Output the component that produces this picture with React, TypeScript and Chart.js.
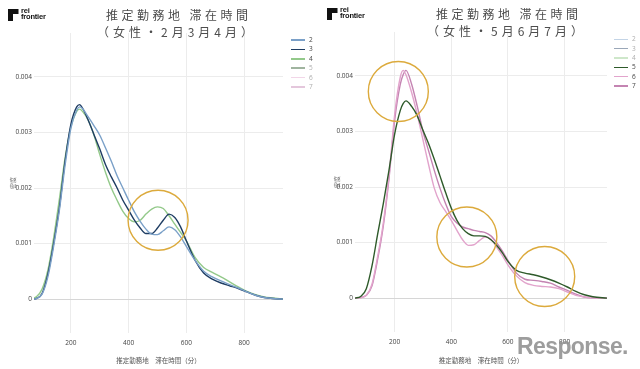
import React, { useEffect, useRef } from "react";
import { Chart, registerables } from "chart.js";

Chart.register(...registerables);

// ---------- data ----------
const seriesNames = ["2", "3", "4", "5", "6", "7"];
const seriesColors = ["#7aa0c8", "#1f3d63", "#93c98a", "#2e5a2a", "#e2a4cc", "#c484b2"];

// sample grid (minutes) for months 2-4
const gridFeb = [72, 80, 100, 120, 140, 160, 180, 200, 220, 230, 240, 260, 280, 300, 320, 340, 360, 380, 400, 420, 440, 460, 480, 500, 520, 540, 560, 580, 600, 630, 660, 690, 720, 750, 780, 810, 840, 870, 900, 935];
// density ×1000
const dens2 = [0, 0.01, 0.09, 0.4, 0.95, 1.6, 2.42, 3.08, 3.4, 3.46, 3.43, 3.28, 3.12, 2.95, 2.72, 2.48, 2.22, 2.0, 1.78, 1.57, 1.4, 1.26, 1.17, 1.16, 1.23, 1.3, 1.25, 1.12, 0.95, 0.7, 0.5, 0.4, 0.33, 0.26, 0.2, 0.13, 0.07, 0.03, 0.01, 0];
const dens3 = [0, 0.01, 0.1, 0.45, 1.0, 1.65, 2.5, 3.15, 3.46, 3.5, 3.44, 3.22, 2.96, 2.7, 2.42, 2.2, 2.0, 1.78, 1.6, 1.42, 1.28, 1.18, 1.18, 1.28, 1.42, 1.53, 1.47, 1.3, 1.05, 0.7, 0.47, 0.36, 0.29, 0.24, 0.19, 0.13, 0.07, 0.03, 0.01, 0];
const dens4 = [0.02, 0.04, 0.18, 0.52, 1.1, 1.8, 2.55, 3.1, 3.38, 3.42, 3.38, 3.22, 2.95, 2.6, 2.28, 2.0, 1.78, 1.58, 1.45, 1.39, 1.42, 1.53, 1.62, 1.66, 1.63, 1.5, 1.35, 1.2, 1.05, 0.75, 0.57, 0.48, 0.4, 0.31, 0.22, 0.14, 0.08, 0.04, 0.02, 0];

// sample grid (minutes) for months 5-7
const gridMay = [60, 80, 100, 120, 140, 160, 180, 200, 220, 230, 240, 260, 280, 300, 320, 340, 360, 380, 400, 420, 440, 460, 480, 500, 520, 540, 560, 580, 600, 630, 660, 690, 720, 750, 780, 810, 840, 870, 900, 950];
const dens5 = [0, 0.03, 0.17, 0.58, 1.15, 1.7, 2.3, 2.95, 3.38, 3.5, 3.55, 3.45, 3.28, 3.02, 2.78, 2.5, 2.2, 1.9, 1.62, 1.4, 1.25, 1.16, 1.12, 1.12, 1.11, 1.05, 0.95, 0.82, 0.66, 0.5, 0.45, 0.42, 0.38, 0.33, 0.27, 0.2, 0.12, 0.06, 0.025, 0];
const dens6 = [0, 0.01, 0.05, 0.25, 0.75, 1.35, 2.2, 3.3, 3.98, 4.1, 4.02, 3.7, 3.3, 2.85, 2.4, 1.98, 1.72, 1.56, 1.4, 1.22, 1.05, 0.95, 0.96, 1.04, 1.1, 1.06, 0.92, 0.77, 0.6, 0.4, 0.28, 0.23, 0.21, 0.2, 0.17, 0.11, 0.05, 0.02, 0.005, 0];
const dens7 = [0, 0.01, 0.05, 0.22, 0.7, 1.3, 2.15, 3.2, 3.85, 4.02, 4.1, 3.85, 3.45, 3.0, 2.65, 2.3, 1.98, 1.7, 1.47, 1.35, 1.28, 1.25, 1.22, 1.2, 1.18, 1.12, 1.0, 0.85, 0.68, 0.45, 0.34, 0.32, 0.3, 0.27, 0.2, 0.14, 0.07, 0.02, 0.005, 0];

const seriesGrids = [gridFeb, gridFeb, gridFeb, gridMay, gridMay, gridMay];
const seriesDens = [dens2, dens3, dens4, dens5, dens6, dens7];

const xTicks = [200, 400, 600, 800];
const yTicks = [0, 0.001, 0.002, 0.003, 0.004];

const titleLine1 = "推定勤務地 滞在時間";
const titleLeft2 = "（女性・2月3月4月）";
const titleRight2 = "（女性・5月6月7月）";
const xTitle = "推定勤務地　滞在時間（分）";
const yTitle = "密度";

// annotation circles (centre in data units)
const circlesLeft = [{ x: 502, y: 0.00142 }];
const circlesRight = [
  { x: 213, y: 0.00372 },
  { x: 455, y: 0.0011 },
  { x: 730, y: 0.00039 },
];

const FONT = "'Open Sans', 'Noto Sans CJK JP', sans-serif";
const CJK = "'Noto Sans CJK JP', 'Noto Sans', sans-serif";

const circlePlugin = {
  id: "circles",
  afterDatasetsDraw(chart: any, _args: any, opts: any) {
    const { ctx } = chart;
    const xs = chart.scales.x;
    const ys = chart.scales.y;
    ctx.save();
    ctx.strokeStyle = opts.color;
    ctx.lineWidth = opts.width;
    for (const c of opts.items || []) {
      ctx.beginPath();
      ctx.arc(xs.getPixelForValue(c.x), ys.getPixelForValue(c.y), opts.radius, 0, Math.PI * 2);
      ctx.stroke();
    }
    ctx.restore();
  },
};

type PanelProps = {
  left: number;
  shown: boolean[];
  xMin: number;
  xMax: number;
  padTop: number;
  padRight: number;
  yWidth: number;
  xHeight: number;
  yTitlePad: number;
  circles: { x: number; y: number }[];
  title2: string;
  titleCx: number;
  titleY1: number;
  titleY2: number;
  legendX: number;
  legendY: number;
  legendStep: number;
  logoX: number;
  logoY: number;
};

function Panel(p: PanelProps) {
  const ref = useRef<HTMLCanvasElement | null>(null);

  useEffect(() => {
    if (!ref.current) return;
    const datasets = seriesNames.map((name, i) => ({
      label: name,
      data: seriesGrids[i].map((x, k) => ({ x, y: seriesDens[i][k] / 1000 })),
      borderColor: seriesColors[i],
      backgroundColor: seriesColors[i],
      borderWidth: 1.4,
      pointRadius: 0,
      fill: false,
      cubicInterpolationMode: "monotone" as const,
      hidden: !p.shown[i],
    }));
    const chart = new Chart(ref.current, {
      type: "line",
      data: { datasets },
      plugins: [circlePlugin],
      options: {
        animation: false,
        responsive: false,
        maintainAspectRatio: false,
        layout: { padding: { top: p.padTop, right: p.padRight, left: 0, bottom: 0 } },
        plugins: {
          legend: { display: false },
          tooltip: { enabled: false },
          // @ts-ignore
          circles: { items: p.circles, radius: 30, color: "#dcaa3c", width: 1.4 },
        },
        scales: {
          x: {
            type: "linear",
            min: p.xMin,
            max: p.xMax,
            afterBuildTicks: (s: any) => {
              s.ticks = xTicks.map((v) => ({ value: v }));
            },
            afterFit: (s: any) => {
              s.height = p.xHeight;
            },
            grid: { color: "#ececec", drawTicks: false, lineWidth: 1 },
            border: { display: false },
            ticks: {
              padding: 6,
              color: "#444",
              maxRotation: 0,
              autoSkip: false,
              font: { size: 6.5, family: FONT },
              callback: (v: any) => String(v),
            },
            title: {
              display: true,
              text: xTitle,
              color: "#555",
              font: { size: 6.5, family: CJK },
              padding: { top: 0, bottom: 5 },
            },
          },
          y: {
            type: "linear",
            min: -0.00061,
            max: 0.00479,
            afterBuildTicks: (s: any) => {
              s.ticks = yTicks.map((v) => ({ value: v }));
            },
            afterFit: (s: any) => {
              s.width = p.yWidth;
            },
            grid: {
              color: (c: any) => (c.tick && c.tick.value === 0 ? "#d6d6d6" : "#ececec"),
              drawTicks: false,
              lineWidth: 1,
            },
            border: { display: false },
            ticks: {
              padding: 2,
              color: "#444",
              autoSkip: false,
              font: { size: 6.5, family: FONT },
              callback: (v: any) => (v === 0 ? "0" : String(v)),
            },
            title: {
              display: true,
              text: yTitle,
              color: "#777",
              font: { size: 6, family: CJK },
              padding: { top: p.yTitlePad, bottom: 0 },
            },
          },
        },
      },
    });
    return () => chart.destroy();
  }, []);

  const ls = 3.5;
  return (
    <div style={{ position: "absolute", left: p.left, top: 0, width: 320, height: 369 }}>
      <canvas ref={ref} width={320} height={369} style={{ position: "absolute", left: 0, top: 0, width: 320, height: 369, display: "block" }} />
      {/* logo */}
      <div style={{ position: "absolute", left: p.logoX, top: p.logoY, display: "flex", alignItems: "flex-start" }}>
        <svg width="11" height="12" viewBox="0 0 11 12" style={{ display: "block" }}>
          <path d="M0 0 H10.5 V5 H5 V12 H0 Z" fill="#111" />
        </svg>
        <div style={{ marginLeft: 2, fontFamily: "'Liberation Sans', Arial, sans-serif", fontWeight: 700, fontSize: 7.5, lineHeight: "6px", color: "#111", letterSpacing: -0.2, marginTop: -1 }}>
          <div>rei</div>
          <div>frontier</div>
        </div>
      </div>
      {/* title */}
      <div style={{ position: "absolute", left: p.titleCx - 110, width: 220, top: p.titleY1 - 9, textAlign: "center", fontFamily: CJK, fontSize: 12, lineHeight: "18px", color: "#4d4d4d", letterSpacing: ls, paddingLeft: ls, boxSizing: "border-box", whiteSpace: "pre" }}>
        {titleLine1}
      </div>
      <div style={{ position: "absolute", left: p.titleCx - 112, width: 220, top: p.titleY2 - 9, textAlign: "center", fontFamily: CJK, fontSize: 12, lineHeight: "18px", color: "#4d4d4d", letterSpacing: 4, paddingLeft: 4, boxSizing: "border-box", whiteSpace: "pre" }}>
        {p.title2}
      </div>
      {/* legend */}
      {seriesNames.map((name, i) => (
        <div key={name} style={{ position: "absolute", left: p.legendX, top: p.legendY + i * p.legendStep - 5, height: 10, display: "flex", alignItems: "center", opacity: p.shown[i] ? 1 : 0.45 }}>
          <div style={{ width: 14, height: 1.5, background: seriesColors[i] }} />
          <div style={{ marginLeft: 4, fontFamily: FONT, fontSize: 6.5, color: "#444", lineHeight: "10px" }}>{name}</div>
        </div>
      ))}
    </div>
  );
}

export default function App() {
  return (
    <div style={{ position: "absolute", left: 0, top: 0, width: 640, height: 369, background: "#fff", overflow: "hidden" }}>
      <Panel
        left={0}
        shown={[true, true, true, false, false, false]}
        xMin={72}
        xMax={935}
        padTop={33}
        padRight={37}
        yWidth={34}
        xHeight={36}
        yTitlePad={9}
        circles={circlesLeft}
        title2={titleLeft2}
        titleCx={177}
        titleY1={15}
        titleY2={32}
        legendX={291}
        legendY={40}
        legendStep={9.4}
        logoX={8}
        logoY={9}
      />
      <Panel
        left={320}
        shown={[false, false, false, true, true, true]}
        xMin={60}
        xMax={950}
        padTop={32}
        padRight={33}
        yWidth={35}
        xHeight={37}
        yTitlePad={13}
        circles={circlesRight}
        title2={titleRight2}
        titleCx={187}
        titleY1={14}
        titleY2={31}
        legendX={294}
        legendY={39.3}
        legendStep={9.35}
        logoX={7}
        logoY={8}
      />
      <div style={{ position: "absolute", left: 517, top: 335, fontFamily: "'Liberation Sans', Arial, sans-serif", fontSize: 23, lineHeight: "23px", color: "#939393", letterSpacing: -0.6, fontWeight: 700, opacity: 0.9 }}>
        Response.
      </div>
    </div>
  );
}
